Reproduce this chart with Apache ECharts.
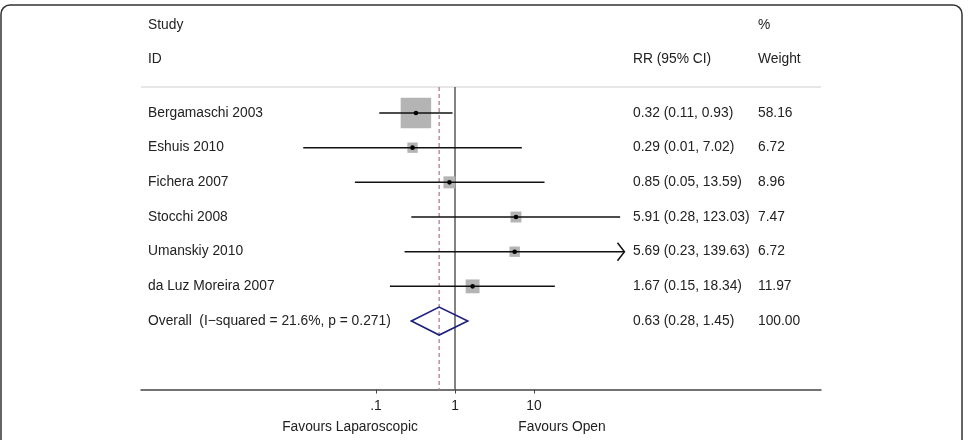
<!DOCTYPE html>
<html>
<head>
<meta charset="utf-8">
<script src="https://cdn.jsdelivr.net/npm/echarts@6/dist/echarts.min.js"></script>
<style>
  html, body { margin: 0; padding: 0; background: #fff; }
  #main { width: 979px; height: 440px; }
</style>
</head>
<body>
<div id="main"></div>
<script>
// data
var studies = ['Bergamaschi 2003', 'Eshuis 2010', 'Fichera 2007', 'Stocchi 2008', 'Umanskiy 2010', 'da Luz Moreira 2007'];
var rr = [0.32, 0.29, 0.85, 5.91, 5.69, 1.67];
var lower = [0.11, 0.012, 0.054, 0.28, 0.23, 0.15];
var upper = [0.93, 7.02, 13.59, 123.03, 139.63, 18.34];
var weights = [58.16, 6.72, 8.96, 7.47, 6.72, 11.97];
var clipped = [false, false, false, false, true, false];
var ciLabels = ['0.32 (0.11, 0.93)', '0.29 (0.01, 7.02)', '0.85 (0.05, 13.59)', '5.91 (0.28, 123.03)', '5.69 (0.23, 139.63)', '1.67 (0.15, 18.34)'];
var weightLabels = ['58.16', '6.72', '8.96', '7.47', '6.72', '11.97'];

var overallLabel = 'Overall  (I\u2212squared = 21.6%, p = 0.271)';
var overallRR = [0.63, 0.28, 1.45]; // estimate, lower, upper
var overallCiLabel = '0.63 (0.28, 1.45)';
var overallWeight = '100.00';

var tickValues = [0.1, 1, 10];
var tickLabels = ['.1', '1', '10'];

var FONT = '"Liberation Sans", Arial, Helvetica, sans-serif';
var FS = 13.8;
var TXT = '#222';
var Y_TOP = -0.75, Y_BOT = 7.975;

var chart = echarts.init(document.getElementById('main'));

var rowData = studies.map(function (s, i) {
  return [rr[i], i, lower[i], upper[i], weights[i], clipped[i] ? 1 : 0];
});

function renderStudy(params, api) {
  var p = api.coord([api.value(0), api.value(1)]);
  var l = api.coord([api.value(2), api.value(1)]);
  var u = api.coord([api.value(3), api.value(1)]);
  var size = 4 * Math.sqrt(api.value(4));
  var children = [
    { type: 'rect', shape: { x: p[0] - size / 2, y: p[1] - size / 2, width: size, height: size },
      style: { fill: '#b4b4b4' } },
    { type: 'line', shape: { x1: l[0], y1: l[1], x2: u[0], y2: u[1] },
      style: { stroke: '#111', lineWidth: 1.5 } },
    { type: 'circle', shape: { cx: p[0], cy: p[1], r: 2.3 }, style: { fill: '#000' } }
  ];
  if (api.value(5)) {
    children.push({ type: 'polyline', shape: { points: [[u[0] - 7, u[1] - 9], [u[0], u[1]], [u[0] - 7, u[1] + 9]] },
      style: { stroke: '#111', fill: null, lineWidth: 1.5 } });
  }
  return { type: 'group', children: children };
}

function renderOverall(params, api) {
  var y = api.value(3);
  var c = api.coord([api.value(0), y]);
  var l = api.coord([api.value(1), y]);
  var u = api.coord([api.value(2), y]);
  var h = 14;
  return {
    type: 'polygon',
    shape: { points: [[l[0], c[1]], [c[0], c[1] - h], [u[0], c[1]], [c[0], c[1] + h]] },
    style: { stroke: '#1c1f7c', fill: null, lineWidth: 1.6 }
  };
}

function renderRefLines(params, api) {
  var top = api.coord([api.value(0), Y_TOP]);
  var bot = api.coord([api.value(0), Y_BOT]);
  var dashed = params.dataIndex === 1;
  return {
    type: 'line',
    shape: { x1: top[0], y1: top[1], x2: bot[0], y2: bot[1] },
    style: dashed ? { stroke: '#c48c9c', lineWidth: 1.5, lineDash: [4, 3] }
                  : { stroke: '#5a5a5a', lineWidth: 1.5 }
  };
}

function renderText(params, api) {
  var i = params.dataIndex;
  var y = api.coord([1, i])[1];
  var isOverall = i === studies.length;
  var f = { font: FS + 'px ' + FONT, fill: TXT, verticalAlign: 'middle', align: 'left' };
  return {
    type: 'group',
    children: [
      { type: 'text', x: 148, y: y, style: Object.assign({ text: isOverall ? overallLabel : studies[i] }, f) },
      { type: 'text', x: 633, y: y, style: Object.assign({ text: isOverall ? overallCiLabel : ciLabels[i] }, f) },
      { type: 'text', x: 758, y: y, style: Object.assign({ text: isOverall ? overallWeight : weightLabels[i] }, f) }
    ]
  };
}

var textData = studies.map(function (s, i) { return [1, i]; });
textData.push([1, studies.length]);

var option = {
  animation: false,
  backgroundColor: '#fff',
  grid: { left: 141, right: 158, top: 87, bottom: 50.5 },
  xAxis: {
    type: 'log',
    logBase: 10,
    min: Math.pow(10, -3.975),
    max: Math.pow(10, 4.633),
    axisLine: { show: true, onZero: false, lineStyle: { color: '#444', width: 1.5 } },
    axisTick: { show: true, length: 4, lineStyle: { color: '#444', width: 1 }, customValues: tickValues },
    axisLabel: {
      customValues: tickValues,
      margin: 10,
      fontFamily: FONT, fontSize: FS, color: TXT,
      formatter: function (v) {
        var k = tickValues.indexOf(v);
        return k >= 0 ? tickLabels[k] : '';
      }
    },
    splitLine: { show: false },
    minorTick: { show: false }
  },
  yAxis: { type: 'value', inverse: true, min: Y_TOP, max: Y_BOT, show: false },
  series: [
    { type: 'custom', renderItem: renderRefLines, data: [[1], [overallRR[0]]], z: 1, silent: true },
    { type: 'custom', renderItem: renderStudy, data: rowData, z: 2, silent: true },
    { type: 'custom', renderItem: renderOverall, data: [[overallRR[0], overallRR[1], overallRR[2], studies.length]], z: 3, silent: true },
    { type: 'custom', renderItem: renderText, data: textData, z: 3, silent: true }
  ],
  graphic: [
    { type: 'rect', shape: { x: 1, y: 5, width: 961, height: 470, r: 9 }, style: { fill: null, stroke: '#333', lineWidth: 1.5 }, z: 10 },
    { type: 'line', shape: { x1: 141, y1: 87, x2: 821, y2: 87 }, style: { stroke: '#cfcfcf', lineWidth: 1 } },
    { type: 'text', x: 148, y: 25, style: { text: 'Study', font: FS + 'px ' + FONT, fill: TXT, verticalAlign: 'middle' } },
    { type: 'text', x: 148, y: 59, style: { text: 'ID', font: FS + 'px ' + FONT, fill: TXT, verticalAlign: 'middle' } },
    { type: 'text', x: 633, y: 59, style: { text: 'RR (95% CI)', font: FS + 'px ' + FONT, fill: TXT, verticalAlign: 'middle' } },
    { type: 'text', x: 758, y: 25, style: { text: '%', font: FS + 'px ' + FONT, fill: TXT, verticalAlign: 'middle' } },
    { type: 'text', x: 758, y: 59, style: { text: 'Weight', font: FS + 'px ' + FONT, fill: TXT, verticalAlign: 'middle' } },
    { type: 'text', x: 350, y: 427, style: { text: 'Favours Laparoscopic', font: FS + 'px ' + FONT, fill: TXT, align: 'center', verticalAlign: 'middle' } },
    { type: 'text', x: 562, y: 427, style: { text: 'Favours Open', font: FS + 'px ' + FONT, fill: TXT, align: 'center', verticalAlign: 'middle' } }
  ]
};

chart.setOption(option);
</script>
</body>
</html>
